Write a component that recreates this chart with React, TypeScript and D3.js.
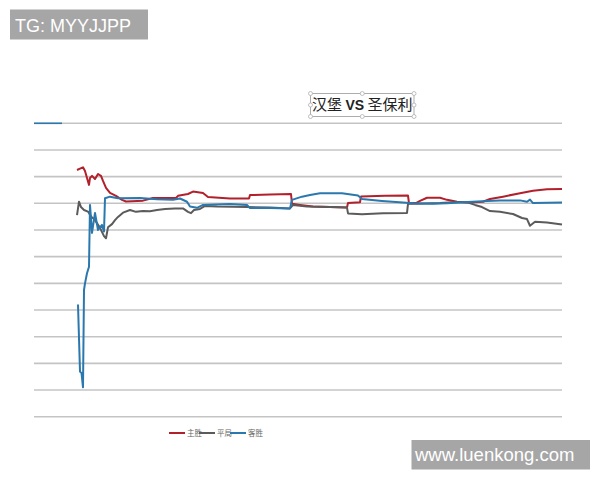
import React from "react";
import * as d3 from "d3";

// x = step index (0..264), y = value (gridline units 0..11)
const homeWin: [number, number][] = [
  [21.5, 9.25], [23, 9.3], [24.5, 9.35], [25.5, 9.21], [26.5, 8.95], [27.5, 8.69], [28, 8.95],
  [29, 9.03], [30.5, 8.91], [32, 9.1], [33.5, 9.03], [34.5, 8.84], [36, 8.58], [38, 8.39],
  [41, 8.28], [44, 8.13], [46, 8.07], [54.5, 8.1], [59.5, 8.2], [71, 8.2], [72, 8.28],
  [77, 8.35], [79.5, 8.44], [84.5, 8.39], [87, 8.24], [98, 8.18], [107.5, 8.18], [108, 8.31],
  [118, 8.33], [128.5, 8.35], [129, 7.98], [133, 7.94], [139.5, 7.88], [148, 7.86],
  [156.5, 7.84], [157, 8.01], [163, 8.04], [163.5, 8.26], [175.5, 8.28], [187, 8.29],
  [187.5, 8.0], [191, 8.01], [193, 8.09], [196.5, 8.21], [203, 8.21], [206.5, 8.13],
  [211.5, 8.06], [216.5, 8.03], [224.5, 8.06], [228, 8.16], [234.5, 8.25], [243, 8.38],
  [249.5, 8.47], [256.5, 8.53], [264, 8.54],
];

const draw: [number, number][] = [
  [21.5, 7.56], [22.5, 8.06], [23.5, 7.86], [25, 7.75], [27, 7.69], [28.5, 7.51], [30.5, 7.37],
  [33, 7.08], [35, 6.77], [36, 6.69], [37, 7.1], [39, 7.22], [40.5, 7.37], [42, 7.49],
  [44.5, 7.65], [48, 7.75], [51, 7.68], [54.5, 7.71], [58, 7.7], [61.5, 7.75], [65.5, 7.79],
  [70.5, 7.81], [74.5, 7.81], [77, 7.68], [78.5, 7.63], [80, 7.75], [83, 7.79], [85.5, 7.9],
  [91.5, 7.88], [106.5, 7.86], [118, 7.84], [128, 7.81], [129.5, 7.94], [136.5, 7.88],
  [148, 7.86], [156.5, 7.84], [157, 7.62], [164, 7.59], [174.5, 7.63], [186.5, 7.64],
  [187, 7.98], [191.5, 7.98], [203, 8.01], [211.5, 8.05], [217, 8.03], [220.5, 7.94],
  [224, 7.86], [228, 7.71], [233, 7.68], [239.5, 7.6], [244, 7.45], [246.5, 7.41],
  [248, 7.16], [250.5, 7.31], [256.5, 7.28], [264, 7.21],
];

const awayWin: [number, number][] = [
  [22, 4.21], [23, 1.69], [23.75, 1.64], [24.5, 1.1], [25, 4.75], [25.5, 5.0], [26.5, 5.38],
  [27.5, 5.62], [28, 7.94], [29, 6.89], [30.5, 7.64], [32, 7.0], [34, 7.19], [35, 6.94],
  [35.5, 8.19], [38, 8.25], [42, 8.19], [53, 8.2], [61.5, 8.15], [69.5, 8.13], [73, 8.18],
  [76.5, 8.06], [78, 7.88], [81.5, 7.83], [84.5, 7.94], [98, 7.97], [106.5, 7.94], [108, 7.82],
  [118, 7.82], [128, 7.81], [129, 8.13], [134, 8.25], [138, 8.31], [143, 8.38], [154, 8.38],
  [162, 8.29], [164, 8.16], [174, 8.09], [184.5, 8.03], [189, 8.0], [199.5, 7.98],
  [206.5, 8.0], [214.5, 8.04], [226.5, 8.09], [233, 8.11], [243, 8.11], [246.5, 8.06],
  [248, 8.14], [249.5, 8.01], [264, 8.03],
];

const stubLine: [number, number][] = [[0, 11], [14, 11]];

const seriesNames = ["主胜", "平局", "客胜"];
const seriesColors = ["#b2202b", "#5b5b5b", "#2a78ad"];
const title = ["汉堡 ", "VS", " 圣保利"];
const watermarkTop = "TG: MYYJJPP";
const watermarkBottom = "www.luenkong.com";

export default function App() {
  const x = d3.scaleLinear().domain([0, 264]).range([34, 562]);
  const y = d3.scaleLinear().domain([0, 11]).range([416.7, 123.3]);
  const line = d3
    .line<[number, number]>()
    .x((d) => x(d[0]))
    .y((d) => y(d[1]))
    .curve(d3.curveLinear);
  const grid = d3.range(0, 12);
  const allSeries = [homeWin, draw, awayWin];

  const bx0 = 310.5, bx1 = 414, by0 = 93.5, by1 = 116.5;
  const handles = [
    [bx0, by0], [(bx0 + bx1) / 2, by0], [bx1, by0],
    [bx0, (by0 + by1) / 2], [bx1, (by0 + by1) / 2],
    [bx0, by1], [(bx0 + bx1) / 2, by1], [bx1, by1],
  ];

  const legendX = [169, 199, 230];

  return (
    <svg
      width={600}
      height={480}
      style={{ position: "absolute", left: 0, top: 0, background: "#fff" }}
    >
      <rect x={0} y={0} width={600} height={480} fill="#fff" />
      {grid.map((g) => (
        <line
          key={g}
          x1={34}
          x2={562}
          y1={y(g)}
          y2={y(g)}
          stroke="#c4c4c4"
          strokeWidth={1.6}
        />
      ))}
      <path d={line(stubLine) || ""} fill="none" stroke={seriesColors[2]} strokeWidth={1.6} />
      {allSeries.map((s, i) => (
        <path
          key={i}
          d={line(s) || ""}
          fill="none"
          stroke={seriesColors[i]}
          strokeWidth={2}
          strokeLinejoin="round"
        />
      ))}

      {/* title box */}
      <rect x={bx0} y={by0} width={bx1 - bx0} height={by1 - by0} fill="#fff" stroke="#9a9a9a" strokeWidth={0.8} />
      {handles.map((h, i) => (
        <circle key={i} cx={h[0]} cy={h[1]} r={2} fill="#fff" stroke="#b0b0b0" strokeWidth={0.8} />
      ))}
      <text
        x={(bx0 + bx1) / 2}
        y={110}
        textAnchor="middle"
        fontFamily="'Noto Sans CJK SC', sans-serif"
        fontSize={15}
        fill="#222"
      >
        <tspan>{title[0]}</tspan>
        <tspan fontWeight="bold" fontFamily="'Liberation Sans', Arial, sans-serif" fontSize={14}>{title[1]}</tspan>
        <tspan>{title[2]}</tspan>
      </text>

      {/* legend */}
      {seriesNames.map((n, i) => (
        <g key={n}>
          <line x1={legendX[i]} x2={legendX[i] + 16} y1={433} y2={433} stroke={seriesColors[i]} strokeWidth={2} />
          <text
            x={legendX[i] + 18}
            y={435.5}
            fontFamily="'Noto Sans CJK SC', sans-serif"
            fontSize={7.5}
            fill="#666"
          >
            {n}
          </text>
        </g>
      ))}

      {/* watermarks */}
      <rect x={10} y={9.5} width={138} height={30} fill="#a6a6a6" />
      <text x={15} y={32} fontFamily="'Liberation Sans', Arial, sans-serif" fontSize={18} fill="#fff">
        {watermarkTop}
      </text>
      <rect x={411.5} y={440} width={178.5} height={29.5} fill="#a6a6a6" />
      <text x={415} y={461} fontFamily="'Liberation Sans', Arial, sans-serif" fontSize={18.5} fill="#fff">
        {watermarkBottom}
      </text>
    </svg>
  );
}
